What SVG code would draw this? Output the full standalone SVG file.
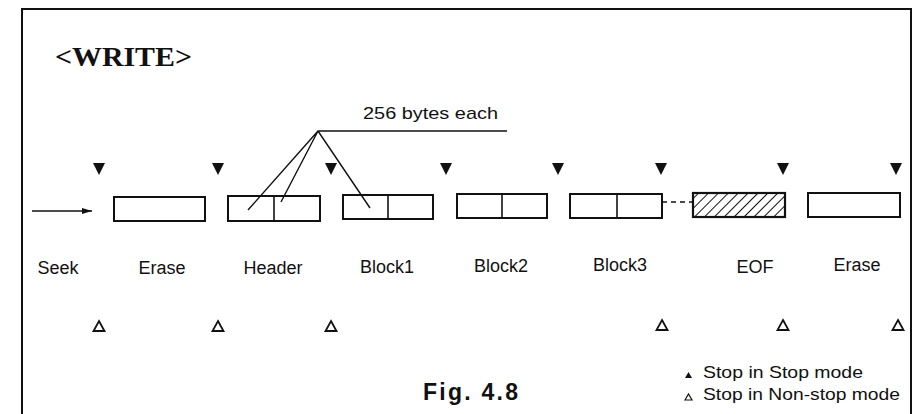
<svg xmlns="http://www.w3.org/2000/svg" width="917" height="414" viewBox="0 0 917 414">
<style>
.box{fill:#fff;stroke:#111;stroke-width:2}
.div{stroke:#111;stroke-width:1.6}
.lbl{font-family:"Liberation Sans",Arial,sans-serif;font-size:18px;fill:#111;text-anchor:middle}
.ln{stroke:#111;stroke-width:1.4;fill:none}
.stop{fill:#111}
.ns{fill:none;stroke:#111;stroke-width:1.8}
</style>
<defs>
<pattern id="hatch" patternUnits="userSpaceOnUse" width="7" height="7" patternTransform="rotate(45)">
<line x1="0" y1="0" x2="0" y2="7" stroke="#111" stroke-width="2"/>
</pattern>
<marker id="arr" markerWidth="10" markerHeight="8" refX="10" refY="4" orient="auto" markerUnits="userSpaceOnUse">
<path d="M0,1 L10,4 L0,7 Z" fill="#111"/>
</marker>
<path id="tf" d="M-6,-6 L6,-6 L0,6 Z"/>
<path id="to" d="M0,-5 L5.5,5 L-5.5,5 Z"/>
</defs>
<rect width="917" height="414" fill="#fff"/>
<path d="M22,420 L22,9 L911,9 L911,420" fill="none" stroke="#111" stroke-width="2"/>
<text x="55" y="66" font-family="'Liberation Serif','Times New Roman',serif" font-weight="bold" font-size="28" fill="#111" textLength="137" lengthAdjust="spacingAndGlyphs">&lt;WRITE&gt;</text>
<text x="363" y="119" font-family="'Liberation Sans',Arial,sans-serif" font-size="17" fill="#111" textLength="135" lengthAdjust="spacingAndGlyphs">256 bytes each</text>
<g id="stop-marks">
<use href="#tf" x="99" y="169" class="stop"/>
<use href="#tf" x="218" y="169" class="stop"/>
<use href="#tf" x="331" y="169" class="stop"/>
<use href="#tf" x="446" y="169" class="stop"/>
<use href="#tf" x="558" y="169" class="stop"/>
<use href="#tf" x="661" y="169" class="stop"/>
<use href="#tf" x="783" y="169" class="stop"/>
<use href="#tf" x="896" y="169" class="stop"/>
</g>
<g id="seek"><text class="lbl" x="58" y="274">Seek</text></g>
<g id="erase1"><rect class="box" x="114" y="197" width="91" height="24"/><text class="lbl" x="162" y="274">Erase</text></g>
<g id="header"><rect class="box" x="228" y="196" width="92" height="25"/><line class="div" x1="274" y1="196" x2="274" y2="221"/><text class="lbl" x="273" y="274">Header</text></g>
<g id="block1"><rect class="box" x="343" y="195" width="90" height="24"/><line class="div" x1="388" y1="195" x2="388" y2="219"/><text class="lbl" x="387" y="273">Block1</text></g>
<g id="block2"><rect class="box" x="457" y="194" width="90" height="24"/><line class="div" x1="502" y1="194" x2="502" y2="218"/><text class="lbl" x="501" y="272">Block2</text></g>
<g id="block3"><rect class="box" x="570" y="194" width="92" height="24"/><line class="div" x1="617" y1="194" x2="617" y2="218"/><text class="lbl" x="620" y="271">Block3</text></g>
<g id="eof"><rect x="693" y="193" width="92" height="24" fill="url(#hatch)" stroke="#111" stroke-width="2.2"/><text class="lbl" x="755" y="273">EOF</text></g>
<g id="erase2"><rect class="box" x="808" y="193" width="92" height="24"/><text class="lbl" x="857" y="271">Erase</text></g>
<g id="connectors">
<line class="ln" x1="32" y1="211" x2="92" y2="211" marker-end="url(#arr)"/>
<path class="ln" d="M507,131 L318,131 L248,210 M318,131 L281,202 M318,131 L370,208"/>
<line x1="662" y1="202" x2="693" y2="202" stroke="#111" stroke-width="1.4" stroke-dasharray="5,4"/>
</g>
<g id="nonstop-marks">
<use href="#to" x="99" y="326" class="ns"/>
<use href="#to" x="218" y="326" class="ns"/>
<use href="#to" x="331" y="326" class="ns"/>
<use href="#to" x="662" y="325" class="ns"/>
<use href="#to" x="783" y="325" class="ns"/>
<use href="#to" x="898" y="325" class="ns"/>
</g>
<text x="423" y="400" font-family="'Liberation Sans',Arial,sans-serif" font-weight="bold" font-size="23" fill="#111" textLength="95" lengthAdjust="spacing">Fig. 4.8</text>
<g id="legend" font-family="'Liberation Sans',Arial,sans-serif" font-size="17" fill="#111">
<path d="M685,378 L688.5,372 L692,378 Z" fill="#111"/>
<text x="703" y="378" textLength="160" lengthAdjust="spacingAndGlyphs">Stop in Stop mode</text>
<path d="M685,400 L688.5,394 L692,400 Z" fill="none" stroke="#111" stroke-width="1.2"/>
<text x="703" y="400" textLength="197" lengthAdjust="spacingAndGlyphs">Stop in Non-stop mode</text>
</g>
</svg>
